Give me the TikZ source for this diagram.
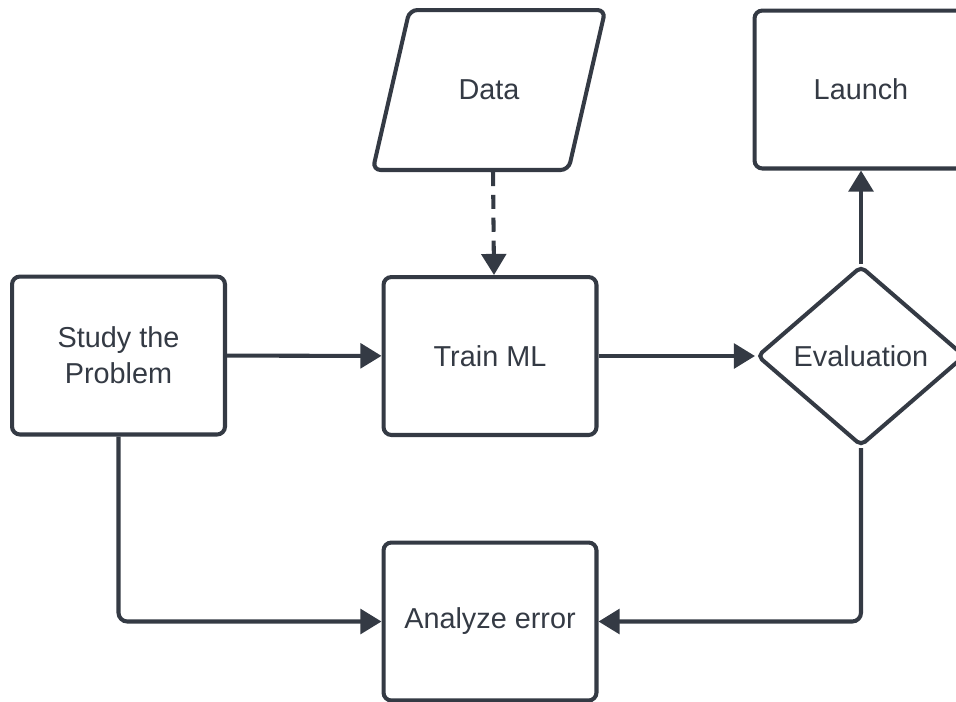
\documentclass[tikz,border=0pt]{standalone}
\usepackage{fontspec}
\setmainfont{Liberation Sans}
\usetikzlibrary{arrows.meta,shapes.geometric}
\definecolor{ink}{HTML}{343A44}

\begin{document}
\begin{tikzpicture}[x=0.02cm, y=-0.02cm,
  every node/.style={font=\fontsize{16.4}{20.4}\selectfont, text=ink},
  box/.style={draw=ink, line width=2.3pt, rounded corners=4.5pt, fill=white,
    minimum width=4.26cm, minimum height=3.16cm, align=center, inner sep=0pt},
  io/.style={draw=ink, line width=2.3pt, rounded corners=4.5pt, fill=white,
    trapezium, trapezium left angle=55, trapezium right angle=125,
    trapezium stretches=true,
    minimum width=4.66cm, minimum height=3.2cm, inner sep=0pt},
  dec/.style={draw=ink, line width=2.3pt, rounded corners=3pt, fill=white,
    diamond, aspect=1.17, minimum width=4.16cm, minimum height=3.6cm, inner sep=0pt},
  flow/.style={draw=ink, line width=2.3pt, rounded corners=5pt,
    -{Triangle[length=12pt,width=14pt]}}]

  \useasboundingbox (0,0) rectangle (956,701);
  \clip (0,0) rectangle (956,701);

  % Top row
  \node[io] (data) at (489, 90) {Data};
  \node[box] (launch) at (861, 89.5) {Launch};

  % Middle row
  \node[box] (study) at (118.5, 355.5) {Study the\\Problem};
  \node[box] (train) at (490, 356) {Train ML};
  \node[dec] (eval) at (861, 356) {Evaluation};

  % Bottom row
  \node[box] (error) at (490, 621.5) {Analyze error};

  % Edges
  \draw[flow, dash pattern=on 8pt off 5pt] ([xshift=0.08cm]data.south) -- ([xshift=0.08cm]train.north);
  \draw[flow] (study) -- (train);
  \draw[flow] (train) -- (eval);
  \draw[flow] (eval) -- (launch);
  \draw[flow] (eval.south) |- (error.east);
  \draw[flow] (study.south) |- (error.west);
\end{tikzpicture}
\end{document}
